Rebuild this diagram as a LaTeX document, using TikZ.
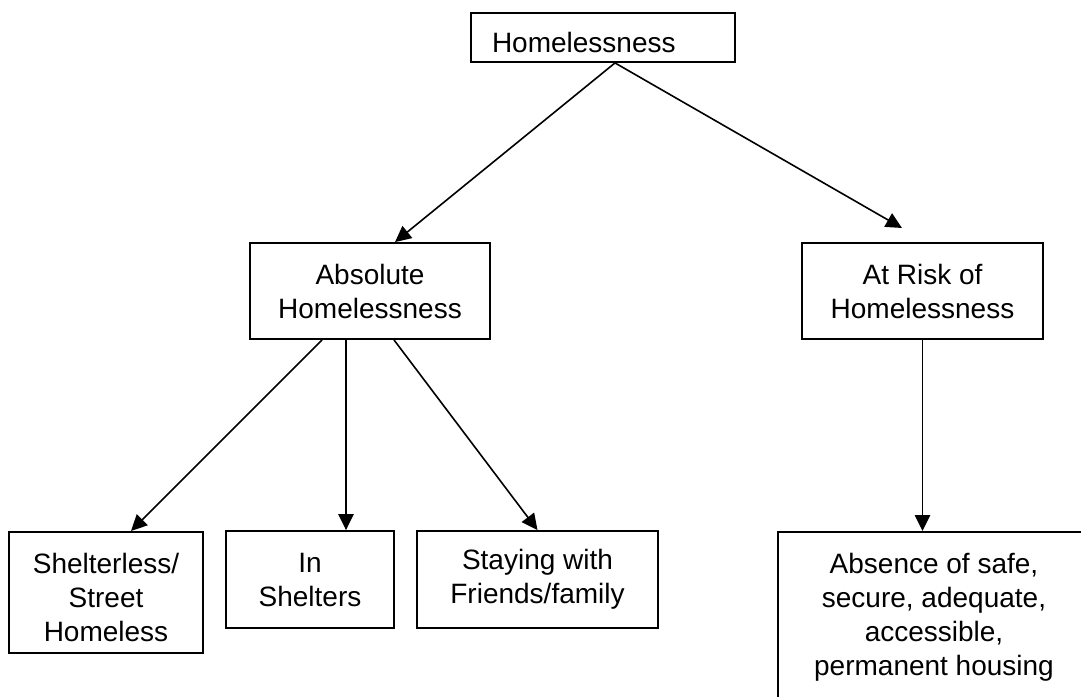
\documentclass[tikz,border=0pt]{standalone}
\usepackage{fontspec}
\setmainfont{Liberation Sans}
\usetikzlibrary{arrows.meta}
\begin{document}
\begin{tikzpicture}[x=0.75pt, y=-0.75pt,
  box/.style={draw, line width=1.4pt, align=center, inner sep=0pt,
    font=\fontsize{21pt}{25.5pt}\selectfont},
  arr/.style={line width=1.2pt, -{Triangle[length=12pt,width=11.5pt]}}]
\useasboundingbox (0,0) rectangle (1081,696);
\clip (0,0) rectangle (1081,696);
\node[box, minimum width=198pt, minimum height=36.75pt, text width=166.5pt, align=left,
  inner xsep=15.75pt, text height=21.75pt, text depth=0pt] (home) at (603,37.5) {Homelessness};
\node[box, minimum width=180pt, minimum height=72pt] (abs) at (370,291) {Absolute\\Homelessness};
\node[box, minimum width=180.75pt, minimum height=72pt] (risk) at (922.5,291) {At Risk of\\Homelessness};
\node[box, minimum width=145.5pt, anchor=north, text height=82.5pt, text depth=8.25pt] (street) at (106,531) {Shelterless/\\Street\\Homeless};
\node[box, minimum width=126pt, minimum height=72.75pt] (shelter) at (310,579.5) {In\\Shelters};
\node[box, minimum width=180.75pt, minimum height=72.75pt] (friends) at (537.5,579.5) {Staying with\\Friends/family};
\node[box, minimum width=234pt, anchor=north, text height=108pt, text depth=63.75pt] (absence) at (934,531) {Absence of safe,\\secure, adequate,\\accessible,\\permanent housing};
\coordinate (riskend) at (902,228);
\draw[arr] ([xshift=9pt]home.south) -- ([xshift=18.75pt]abs.north);
\draw[arr] ([xshift=9pt]home.south) -- (riskend);
\draw[arr] ([xshift=-36pt]abs.south) -- ([xshift=18.75pt]street.north);
\draw[arr] ([xshift=-18pt]abs.south) -- ([xshift=27pt]shelter.north);
\draw[arr] ([xshift=18pt]abs.south) -- (friends.north);
\draw[arr] (risk.south) -- (risk.south |- absence.north);
\end{tikzpicture}
\end{document}
